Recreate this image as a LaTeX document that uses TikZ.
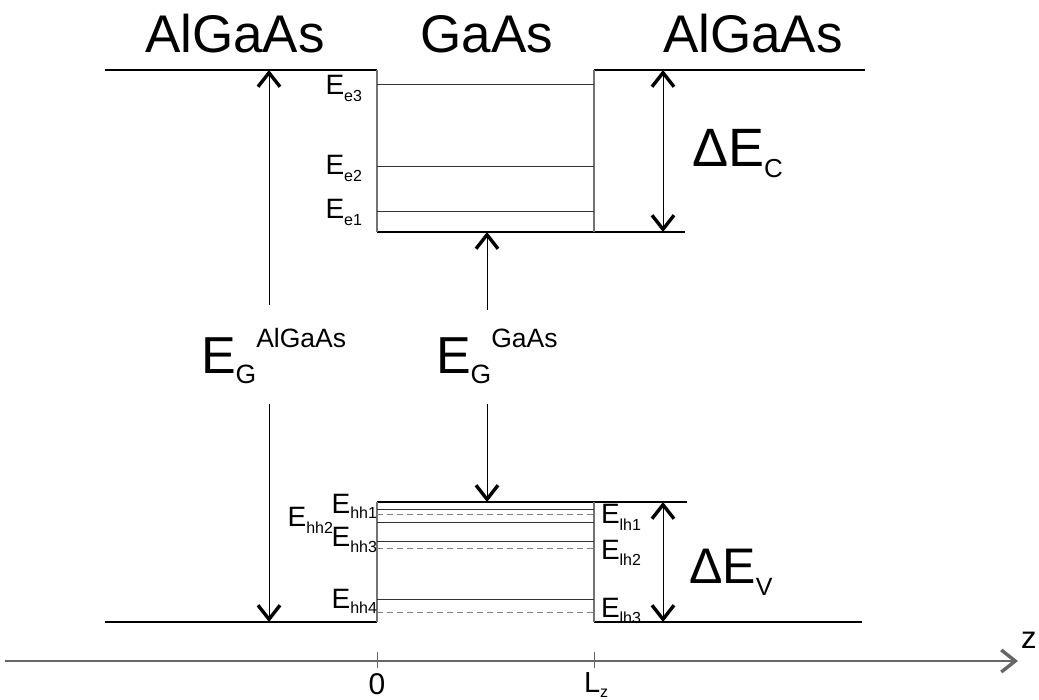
\documentclass[tikz,border=0pt]{standalone}
\usepackage{fontspec}
\setmainfont{Liberation Sans}
\usetikzlibrary{arrows.meta}

% text at a given size (pt)
\newcommand{\szt}[2]{{\fontsize{#1}{#1}\selectfont #2}}
% energy level label: E with lowered subscript
\newcommand{\elab}[2]{\szt{28}{E}\raisebox{-#2pt}{\szt{16}{#1}}}

\begin{document}
\begin{tikzpicture}[x=1pt,y=-1pt,
  band/.style={line width=1.2pt, black},
  wall/.style={line width=1.2pt, black!55},
  lvl/.style={line width=1pt, black!80},
  lhlvl/.style={line width=1pt, black!50, dash pattern=on 6pt off 4pt},
  vtip/.tip={Straight Barb[length=14pt,width=22pt,line width=3.4pt]},
  gaparrow/.style={line width=1pt, black, -vtip},
  dimarrow/.style={line width=1pt, black, vtip-vtip},
  axisline/.style={line width=1.4pt, black!60},
  lab/.style={inner sep=0pt, outer sep=0pt}
]
\useasboundingbox (0,0) rectangle (1039,700);

% ---- conduction band ----
\draw[band] (105,70) -- (377,70);
\draw[band] (594,70) -- (865,70);
\draw[band] (377,232) -- (685,232);
\draw[wall] (377,70) -- (377,232);
\draw[wall] (594,70) -- (594,232);
\draw[lvl] (377,85) -- (594,85);
\draw[lvl] (377,167) -- (594,167);
\draw[lvl] (377,212) -- (594,212);

% ---- valence band ----
\draw[band] (105,622) -- (377,622);
\draw[band] (594,622) -- (862,622);
\draw[band] (377,502) -- (687,502);
\draw[wall] (377,502) -- (377,622);
\draw[wall] (594,502) -- (594,622);
% heavy holes (solid) and light holes (dashed)
\draw[lvl] (377,509) -- (594,509);
\draw[lvl] (377,522) -- (594,522);
\draw[lvl] (377,541) -- (594,541);
\draw[lvl] (377,599) -- (594,599);
\draw[lhlvl] (377,514) -- (594,514);
\draw[lhlvl] (377,548) -- (594,548);
\draw[lhlvl] (377,612) -- (594,612);

% ---- material names ----
\node[lab, anchor=base] (mL) at (235,53) {\szt{53}{AlGaAs}};
\node[lab, anchor=base] (mW) at (487,53) {\szt{53}{GaAs}};
\node[lab, anchor=base] (mR) at (753,53) {\szt{53}{AlGaAs}};

% ---- confined electron levels ----
\node[lab, anchor=base east] (ee3) at (362,95)  {\elab{e3}{7}};
\node[lab, anchor=base east] (ee2) at (362,175) {\elab{e2}{7}};
\node[lab, anchor=base east] (ee1) at (362,219) {\elab{e1}{7}};

% ---- confined hole levels ----
\node[lab, anchor=base east] (hh1) at (377,513) {\elab{hh1}{5}};
\node[lab, anchor=base east] (hh2) at (333,526) {\elab{hh2}{7}};
\node[lab, anchor=base east] (hh3) at (377,546) {\elab{hh3}{6}};
\node[lab, anchor=base east] (hh4) at (377,608) {\elab{hh4}{5}};
\node[lab, anchor=base west] (lh1) at (601,523) {\elab{lh1}{7}};
\node[lab, anchor=base west] (lh2) at (601,559) {\elab{lh2}{6}};
\node[lab, anchor=base west] (lh3) at (601,617) {\elab{lh3}{6}};

% ---- band gaps ----
\node[lab, anchor=base west] (gapA) at (201,374)
  {\szt{52}{E}\raisebox{-10pt}{\szt{26.5}{G}}\raisebox{26pt}{\szt{26.5}{AlGaAs}}};
\node[lab, anchor=base west] (gapW) at (436,374)
  {\szt{52}{E}\raisebox{-10pt}{\szt{26.5}{G}}\raisebox{26pt}{\szt{26.5}{GaAs}}};

\coordinate (cbA) at (269,70);
\coordinate (vbA) at (269,622);
\coordinate (gA1) at (269,305);
\coordinate (gA2) at (269,404);
\coordinate (cbW) at (487,232);
\coordinate (vbW) at (487,502);
\coordinate (gW1) at (487,310);
\coordinate (gW2) at (487,404);
\draw[gaparrow] (gA1) -- (cbA);
\draw[gaparrow] (gA2) -- (vbA);
\draw[gaparrow] (gW1) -- (cbW);
\draw[gaparrow] (gW2) -- (vbW);

% ---- band offsets ----
\coordinate (dC1) at (663,70);
\coordinate (dC2) at (663,232);
\coordinate (dV1) at (663,502);
\coordinate (dV2) at (663,622);
\draw[dimarrow] (dC1) -- (dC2);
\draw[dimarrow] (dV1) -- (dV2);
\node[lab, anchor=base west] (offC) at (692,167)
  {\szt{54}{ΔE}\raisebox{-11pt}{\szt{26}{C}}};
\node[lab, anchor=base west] (offV) at (689,583)
  {\szt{50}{ΔE}\raisebox{-12pt}{\szt{25}{V}}};

% ---- z axis ----
\coordinate (ax0) at (5,661);
\coordinate (ax1) at (1018,661);
\draw[axisline, -vtip] (ax0) -- (ax1);
\coordinate (t0a) at (377,652);
\coordinate (t0b) at (377,668);
\coordinate (tLa) at (594,652);
\coordinate (tLb) at (594,668);
\draw[axisline, line width=1pt] (t0a) -- (t0b);
\draw[axisline, line width=1pt] (tLa) -- (tLb);
\node[lab, anchor=base] (z0) at (377,694) {\szt{30}{0}};
\node[lab, anchor=base west] (zL) at (584,692) {\szt{29}{L}\raisebox{-5pt}{\szt{16}{z}}};
\node[lab, anchor=base west] (zz) at (1021,648) {\szt{31}{z}};
\end{tikzpicture}
\end{document}
